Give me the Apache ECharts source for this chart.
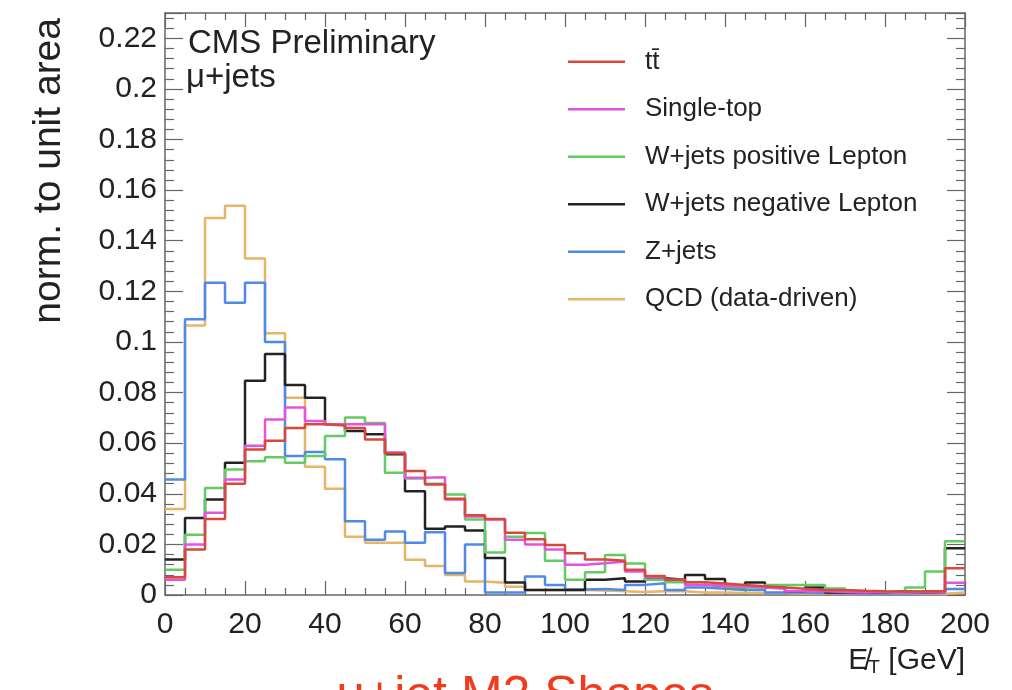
<!DOCTYPE html>
<html>
<head>
<meta charset="utf-8">
<script src="https://cdn.jsdelivr.net/npm/echarts@6/dist/echarts.min.js"></script>
<style>
  html, body { margin: 0; padding: 0; background: #fff; }
  #chart { width: 1012px; height: 690px; }
</style>
</head>
<body>
<div id="chart"></div>
<script>
// MET shapes, 5 GeV bins from 0 to 200
const binWidth = 5;
const xTicks = [0, 20, 40, 60, 80, 100, 120, 140, 160, 180, 200];

const ttbar = [0.007, 0.018, 0.030, 0.044, 0.0575, 0.061, 0.066, 0.0675, 0.067, 0.066,
  0.0615, 0.056, 0.049, 0.0437, 0.038, 0.0315, 0.030, 0.0246, 0.022, 0.0198,
  0.0165, 0.014, 0.0135, 0.0100, 0.0075, 0.006, 0.005, 0.0045, 0.004, 0.0035,
  0.003, 0.0025, 0.002, 0.002, 0.0017, 0.0015, 0.0014, 0.0015, 0.0015, 0.0106];
const singleTop = [0.006, 0.020, 0.0325, 0.0456, 0.059, 0.0694, 0.0741, 0.0688, 0.0675, 0.0675,
  0.0675, 0.0563, 0.0463, 0.0465, 0.0377, 0.031, 0.0298, 0.0218, 0.020, 0.018,
  0.012, 0.0125, 0.0132, 0.0093, 0.007, 0.006, 0.004, 0.0035, 0.0035, 0.003,
  0.0025, 0.0015, 0.0015, 0.0012, 0.001, 0.0012, 0.001, 0.0012, 0.001, 0.0048];
const wPos = [0.010, 0.0238, 0.0423, 0.0496, 0.0529, 0.0544, 0.0523, 0.0549, 0.0628, 0.0701,
  0.068, 0.0483, 0.046, 0.044, 0.0397, 0.0298, 0.0168, 0.023, 0.0245, 0.0135,
  0.006, 0.009, 0.0158, 0.0124, 0.006, 0.005, 0.005, 0.004, 0.003, 0.003,
  0.004, 0.004, 0.004, 0.0026, 0.0015, 0.0012, 0.001, 0.003, 0.0093, 0.0212];
const wNeg = [0.014, 0.0304, 0.0377, 0.0523, 0.0847, 0.0952, 0.083, 0.078, 0.0675, 0.0648,
  0.0635, 0.0556, 0.041, 0.0262, 0.0271, 0.0255, 0.0146, 0.0049, 0.002, 0.002,
  0.002, 0.006, 0.0066, 0.0053, 0.0066, 0.006, 0.0079, 0.0063, 0.003, 0.0049,
  0.003, 0.0015, 0.003, 0.001, 0.001, 0.001, 0.0015, 0.001, 0.0012, 0.0185];
const zJets = [0.0456, 0.109, 0.1234, 0.1155, 0.1234, 0.100, 0.0549, 0.0565, 0.0536, 0.0291,
  0.0218, 0.0251, 0.0206, 0.0248, 0.0087, 0.020, 0.001, 0.001, 0.0073, 0.004,
  0.0022, 0.0024, 0.002, 0.004, 0.0046, 0.002, 0.003, 0.0025, 0.002, 0.002,
  0.001, 0.001, 0.0008, 0.0008, 0.0006, 0.0006, 0.0006, 0.0008, 0.0008, 0.0024];
const qcd = [0.034, 0.1065, 0.149, 0.1538, 0.133, 0.1034, 0.078, 0.0507, 0.042, 0.023,
  0.0206, 0.0206, 0.0139, 0.0115, 0.0079, 0.0053, 0.0048, 0.0033, 0.002, 0.002,
  0.002, 0.0018, 0.0015, 0.0012, 0.0015, 0.0015, 0.001, 0.001, 0.0008, 0.0008,
  0.0008, 0.0006, 0.0006, 0.0006, 0.0005, 0.0005, 0.0005, 0.0005, 0.0005, 0.001];

const names = ['tt\u0304', 'Single-top', 'W+jets positive Lepton', 'W+jets negative Lepton', 'Z+jets', 'QCD (data-driven)'];
const colors = ['#d8483c', '#e453e0', '#62cc62', '#222222', '#4f8ae6', '#e6b566'];
const hists = [ttbar, singleTop, wPos, wNeg, zJets, qcd];

const font = '"Liberation Sans", Arial, sans-serif';

// turn bin contents into step points (bin low edges + the last upper edge)
const toSteps = (vals) => {
  const pts = vals.map((v, i) => [i * binWidth, v]);
  pts.push([vals.length * binWidth, vals[vals.length - 1]]);
  return pts;
};

const chart = echarts.init(document.getElementById('chart'), null, { renderer: 'canvas' });

const axisLine = { show: true, onZero: false, lineStyle: { color: '#666', width: 1.5 } };
const tickStyle = { color: '#666', width: 1.2 };

const xFrame = (pos, labels) => ({
  type: 'value', min: 0, max: 200, interval: 20, position: pos,
  axisLine: axisLine,
  axisTick: { inside: true, length: 14, lineStyle: tickStyle },
  minorTick: { show: true, splitNumber: 4, length: 7, lineStyle: tickStyle },
  splitLine: { show: false },
  axisLabel: labels ? {
    fontFamily: font, fontSize: 30, color: '#222', margin: 15,
    formatter: (v) => (xTicks.includes(v) ? String(v) : '')
  } : { show: false }
});

const yFrame = (pos, labels) => ({
  type: 'value', min: 0, max: 0.23, interval: 0.02, position: pos,
  axisLine: axisLine,
  axisTick: { inside: true, length: 18, lineStyle: tickStyle },
  minorTick: { show: true, splitNumber: 5, length: 9, lineStyle: tickStyle },
  splitLine: { show: false },
  axisLabel: labels ? { fontFamily: font, fontSize: 30, color: '#222', margin: 8, showMaxLabel: false } : { show: false }
});

const option = {
  animation: false,
  backgroundColor: '#fff',
  grid: { left: 165, right: 47, top: 13, bottom: 95 },
  legend: {
    orient: 'vertical',
    left: 563,
    top: 33,
    itemWidth: 57,
    itemHeight: 2.5,
    itemGap: 0,
    icon: 'rect',
    data: names,
    textStyle: { fontFamily: font, fontSize: 26, color: '#222', lineHeight: 47.5, padding: [0, 0, 0, 15] }
  },
  xAxis: [xFrame('bottom', true), xFrame('top', false)],
  yAxis: [yFrame('left', true), yFrame('right', false)],
  series: hists.map((vals, k) => ({
    type: 'line',
    name: names[k],
    step: 'end',
    symbol: 'none',
    xAxisIndex: 0,
    yAxisIndex: 0,
    data: toSteps(vals),
    itemStyle: { color: colors[k] },
    lineStyle: { color: colors[k], width: 2.5 },
    z: 10 - k
  })),
  graphic: [
    {
      type: 'text', left: 188, top: 27,
      style: { text: 'CMS Preliminary', font: '33px ' + font, fill: '#222' }
    },
    {
      type: 'text', left: 186, top: 61,
      style: { text: '\u03bc+jets', font: '33px ' + font, fill: '#222' }
    },
    {
      type: 'text', x: 49, y: 18, rotation: Math.PI / 2,
      style: { text: 'norm. to unit area', font: '39px ' + font, fill: '#222', align: 'right', verticalAlign: 'middle' }
    },
    {
      type: 'text', x: 965, y: 661,
      style: {
        text: '{e|E\u0338}{s|T} [GeV]',
        align: 'right', verticalAlign: 'middle',
        font: '30px ' + font, fill: '#222',
        rich: {
          e: { font: '30px ' + font, fill: '#222' },
          s: { font: '19px ' + font, fill: '#222', padding: [14, 0, 0, 0] }
        }
      }
    },
    {
      type: 'text', x: 525, y: 672,
      style: { text: '\u03bc+jet M2 Shapes', font: '50px ' + font, fill: '#f03c1e', align: 'center', verticalAlign: 'top' }
    }
  ]
};

chart.setOption(option);
</script>
</body>
</html>
